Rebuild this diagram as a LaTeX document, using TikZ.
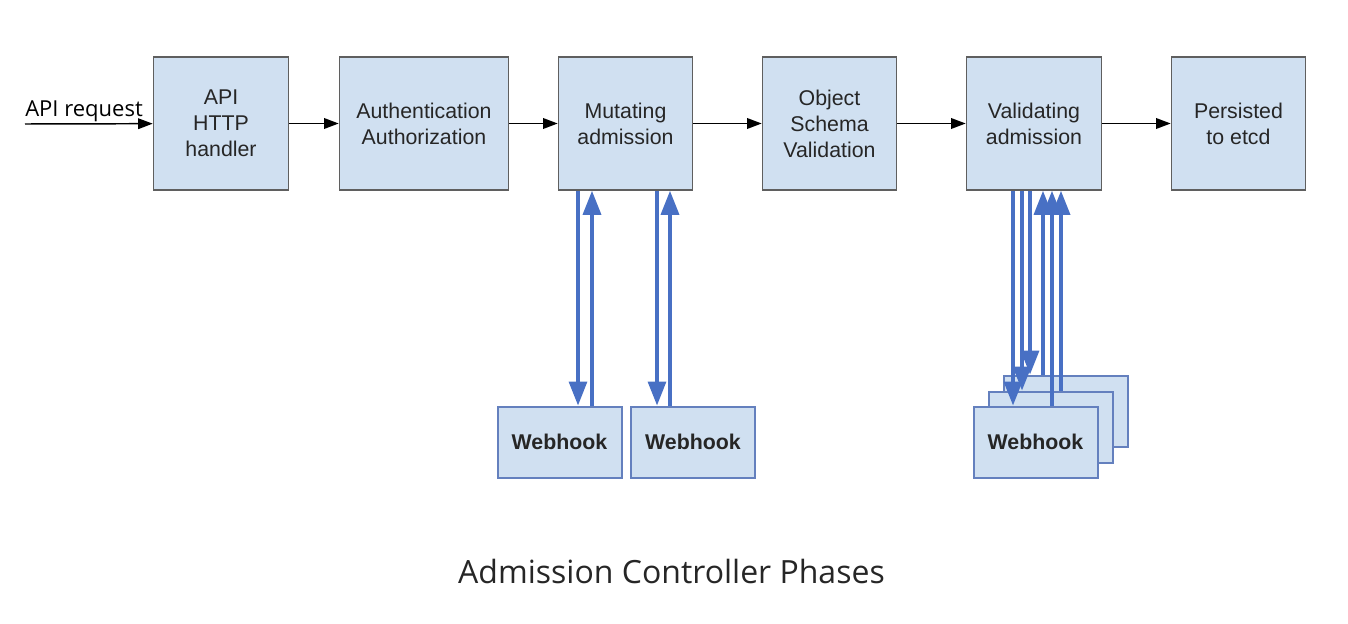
\documentclass[tikz,border=0pt]{standalone}
\usepackage{fontspec}
\setmainfont{Liberation Sans}
\newfontfamily\captionfont{Open Sans}
\usetikzlibrary{arrows.meta,calc}

\definecolor{boxfill}{RGB}{208,224,241}
\definecolor{boxline}{RGB}{95,95,95}
\definecolor{hookline}{RGB}{100,128,190}
\definecolor{hookblue}{RGB}{72,112,196}

\tikzset{
  phase/.style = {draw=boxline, line width=1.2pt, fill=boxfill, align=center,
    minimum height=99.75pt, inner sep=0pt, text=black!85, font=\fontsize{16}{19.5}\selectfont},
  webhook/.style = {draw=hookline, line width=1.5pt, fill=boxfill, minimum width=93pt,
    minimum height=53.25pt, inner sep=0pt, text=black!85, font=\bfseries\fontsize{16}{19.5}\selectfont},
  flow/.style = {-{Triangle[length=11pt,width=8pt]}, line width=1.1pt},
  hookarrow/.style = {-{Triangle[length=18pt,width=13.5pt]}, line width=2.5pt, draw=hookblue}
}

\begin{document}
\begin{tikzpicture}[x=0.75pt, y=-0.75pt]
  \useasboundingbox (0,0) rectangle (1348,624);

  % phases
  \node[phase, minimum width=101.25pt] (api) at (221,123.5) {API\\HTTP\\handler};
  \node[phase, minimum width=126.75pt] (auth) at (424,123.5) {Authentication\\Authorization};
  \node[phase, minimum width=100.5pt] (mut) at (625.5,123.5) {Mutating\\admission};
  \node[phase, minimum width=100.5pt] (obj) at (829.5,123.5) {Object\\Schema\\Validation};
  \node[phase, minimum width=101.25pt] (val) at (1034,123.5) {Validating\\admission};
  \node[phase, minimum width=100.5pt] (etcd) at (1238.5,123.5) {Persisted\\to etcd};

  \coordinate (req) at (25,124);
  \node[anchor=base west, inner sep=0pt, font=\captionfont\fontsize{16.5}{19}\selectfont] (reqlabel) at (25,117) {API request};
  \draw[flow] (req) -- (api);
  \draw[flow] (api) -- (auth);
  \draw[flow] (auth) -- (mut);
  \draw[flow] (mut) -- (obj);
  \draw[flow] (obj) -- (val);
  \draw[flow] (val) -- (etcd);

  % webhooks
  \node[webhook] (wh1) at (559.5,442) {Webhook};
  \node[webhook] (wh2) at (693,442) {Webhook};
  \node[webhook] (whc) at (1065.5,411) {};
  \node[webhook] (whb) at (1050.5,427) {};
  \node[webhook] (wha) at (1035.5,442) {Webhook};

  \draw[hookarrow] ($(wh1.north |- mut.south)+(18.5,0)$) -- ($(wh1.north)+(18.5,0)$);
  \draw[hookarrow] ($(wh1.north)+(32.5,0)$) -- ($(wh1.north |- mut.south)+(32.5,0)$);
  \draw[hookarrow] ($(wh2.north |- mut.south)+(-36,0)$) -- ($(wh2.north)+(-36,0)$);
  \draw[hookarrow] ($(wh2.north)+(-23,0)$) -- ($(wh2.north |- mut.south)+(-23,0)$);

  \foreach \dx/\hk in {-21/wha, -12/whb, -4/whc}
    \draw[hookarrow] ($(val.south)+(\dx,0)$) -- ($(val.south |- \hk.north)+(\dx,0)$);
  \foreach \dx/\hk in {9/whc, 18/wha, 27/whb}
    \draw[hookarrow] ($(val.south |- \hk.north)+(\dx,0)$) -- ($(val.south)+(\dx,0)$);

  \node[font=\captionfont\fontsize{24}{29}\selectfont, text=black!85, anchor=base] (title) at (671.5,583) {Admission Controller Phases};
\end{tikzpicture}
\end{document}
